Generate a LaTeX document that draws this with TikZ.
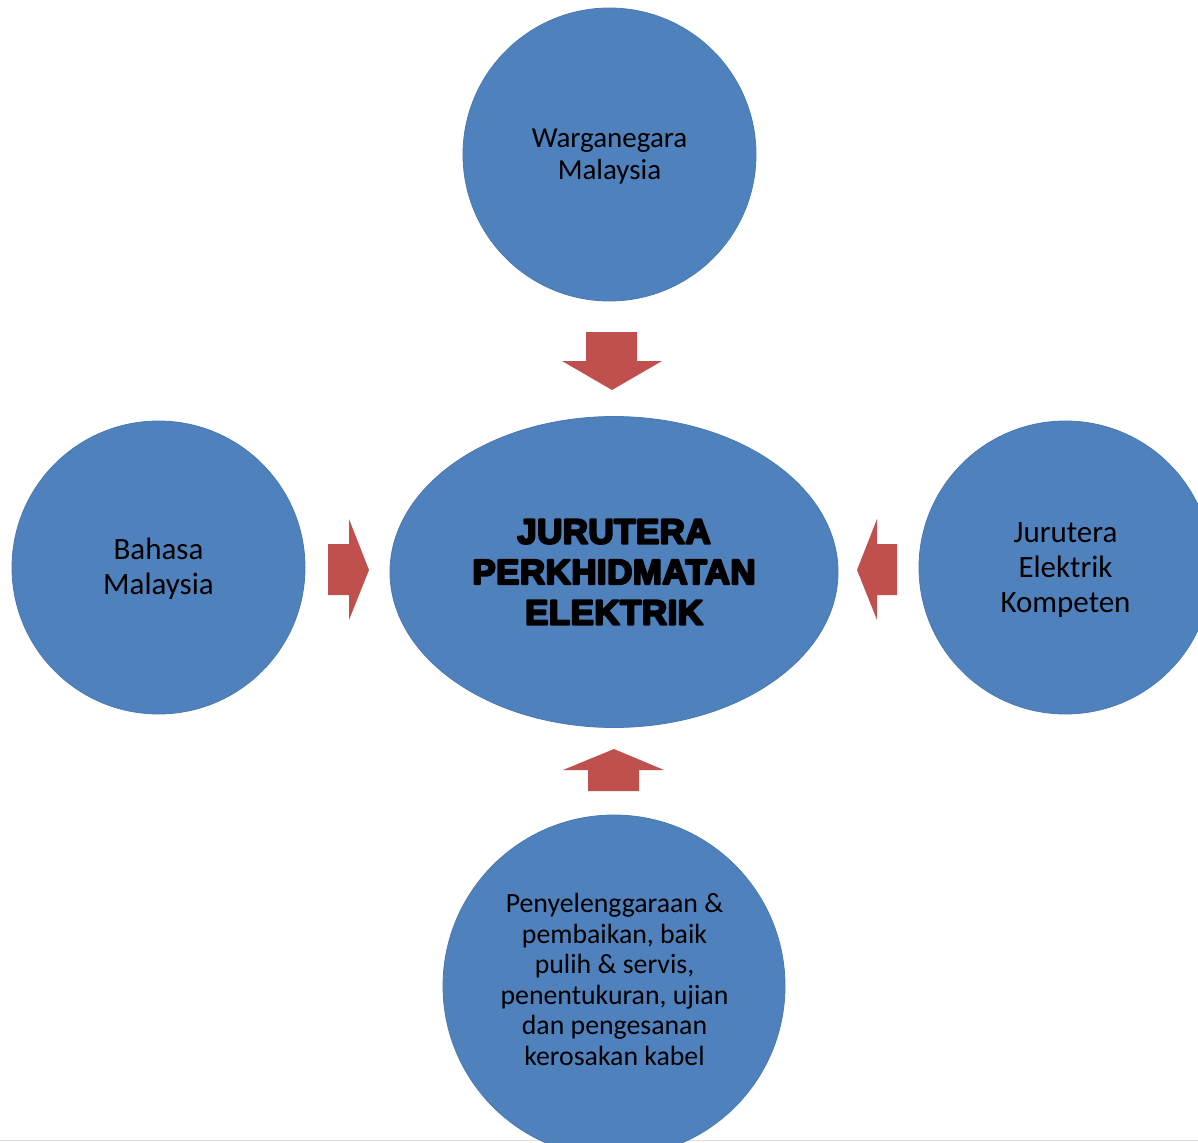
\documentclass[tikz,border=0pt]{standalone}
\usepackage{fontspec}
\usetikzlibrary{shapes.geometric}
\setmainfont{Carlito}
\newfontfamily\titlefont{Liberation Sans}[UprightFont={* Bold}, LetterSpace=1.2]
\newcommand{\heavytext}[1]{\special{pdf:literal direct 2 Tr 2.2 w 1 j 0 G}#1\special{pdf:literal direct 0 Tr}}
\definecolor{circblue}{HTML}{4F81BD}
\definecolor{circedge}{HTML}{4A7AB3}
\definecolor{arrred}{HTML}{C0504D}
\definecolor{linegray}{HTML}{DDDDDD}
\begin{document}
\begin{tikzpicture}[x=1pt,y=-1pt,
  bubble/.style={circle, fill=circblue, draw=circedge, line width=0.8pt, inner sep=0pt, align=center, text=black},
  blockarrow/.style={fill=arrred},
  smalltext/.style={font=\fontsize{29}{32}\selectfont},
  midtext/.style={font=\fontsize{31}{35}\selectfont},
  bottext/.style={font=\fontsize{27.8}{30.6}\selectfont, align=center, inner sep=0pt},
  titletext/.style={font=\titlefont\fontsize{35}{40.5}\selectfont}]
\useasboundingbox (0,0) rectangle (1198,1142);
\clip (0,0) rectangle (1198,1142);
% bottom rule
\coordinate (ruleL) at (0,1140.5);
\coordinate (ruleR) at (1198,1140.5);
\draw[linegray, line width=1.5pt] (ruleL) -- (ruleR);
% circles
\node[bubble, minimum size=293pt] (top) at (609.5,154.5) {};
\node[smalltext, align=center, inner sep=0pt] (toptext) at (609.5,156.5) {Warganegara\\Malaysia};
\node[bubble, minimum size=293pt] (left) at (158.5,567.5) {};
\node[midtext, align=center, inner sep=0pt] (lefttext) at (158.5,568.5) {Bahasa\\Malaysia};
\node[bubble, minimum size=293pt] (right) at (1065.5,567.5) {};
\node[midtext, align=center, inner sep=0pt] (righttext) at (1065.5,570) {Jurutera\\Elektrik\\Kompeten};
\node[bubble, minimum size=342pt] (bottom) at (614,986) {};
\node[bottext] (bottomtext) at (614.5,979.5) {Penyelenggaraan \&\\pembaikan, baik\\pulih \& servis,\\penentukuran, ujian\\dan pengesanan\\kerosakan kabel};
% centre ellipse
\node[ellipse, fill=circblue, draw=circedge, line width=0.8pt, minimum width=448pt, minimum height=311pt, inner sep=0pt] (centre) at (614,572) {};
\node[titletext, align=center, inner sep=0pt] (centretext) at (614,572) {\heavytext{JURUTERA}\\\heavytext{PERKHIDMATAN}\\\heavytext{ELEKTRIK}};
% block arrows
\fill[blockarrow] (586,332) -- (637,332) -- (637,361) -- (662,361) -- (612,390) -- (562,361) -- (586,361) -- cycle;
\fill[blockarrow] (328,544) -- (349,544) -- (349,519) -- (369,570) -- (349,620) -- (349,595) -- (328,595) -- cycle;
\fill[blockarrow] (897,544) -- (877,544) -- (877,519) -- (857,570) -- (877,620) -- (877,595) -- (897,595) -- cycle;
\fill[blockarrow] (588,791) -- (639,791) -- (639,770) -- (664,770) -- (614,749) -- (563,770) -- (588,770) -- cycle;
\end{tikzpicture}
\end{document}
